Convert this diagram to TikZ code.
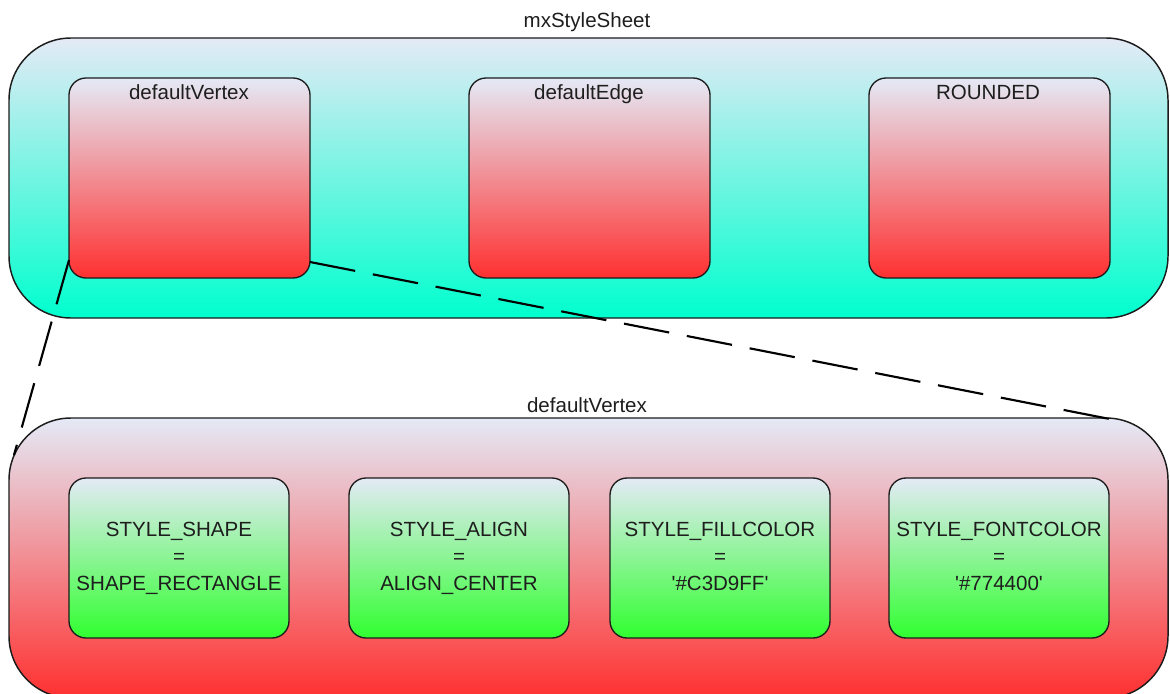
\documentclass[tikz,border=0pt]{standalone}
\usepackage{fontspec}
\setmainfont{Liberation Sans}
\usetikzlibrary{calc}

% gradient colours
\definecolor{paleTop}{RGB}{228,234,246}
\definecolor{sheetBottom}{RGB}{0,255,206}
\definecolor{redBottom}{RGB}{255,48,48}
\definecolor{greenBottom}{RGB}{48,255,48}
\definecolor{inkLine}{RGB}{28,28,28}
\definecolor{inkText}{RGB}{30,30,30}

\tikzset{
  txt/.style={font=\fontsize{15.4pt}{20.25pt}\selectfont, text=inkText},
  container/.style={draw=inkLine, line width=1.1pt, rounded corners=46.5pt,
    minimum width=869.25pt, minimum height=210pt, inner sep=0pt, outer sep=0pt,
    anchor=north west},
  sheetbox/.style={container, top color=paleTop, bottom color=sheetBottom},
  vertexbox/.style={container, top color=paleTop, bottom color=redBottom},
  stylebox/.style={draw=inkLine, line width=1pt, rounded corners=12.75pt,
    minimum width=180.75pt, minimum height=150pt, inner sep=0pt, outer sep=0pt,
    anchor=north west, top color=paleTop, bottom color=redBottom},
  entrybox/.style={draw=inkLine, line width=1pt, rounded corners=12.75pt,
    minimum width=165pt, minimum height=120pt, inner sep=0pt, outer sep=0pt,
    anchor=north west, top color=paleTop, bottom color=greenBottom,
    txt, align=center},
  caption/.style={txt, inner sep=0pt, anchor=base},
  link/.style={draw=black, line width=1.6pt, dash pattern=on 34.5pt off 13.5pt}
}

\begin{document}
\begin{tikzpicture}[x=0.75pt, y=-0.75pt]
  \useasboundingbox (0,0) rectangle (1170,693);
  \clip (0,0) rectangle (1170,693);

  % the style sheet and its named styles
  \node[sheetbox] (sheet) at (9,38) {};
  \node[caption] (sheetTitle) at (587,27) {mxStyleSheet};

  \node[stylebox] (vtx) at (69,78) {};
  \node[stylebox] (edg) at (469,78) {};
  \node[stylebox] (rnd) at (869,78) {};
  \node[caption] (vtxLabel) at (189,99) {defaultVertex};
  \node[caption] (edgLabel) at (589,99) {defaultEdge};
  \node[caption] (rndLabel) at (988,99) {ROUNDED};

  % the expanded defaultVertex style
  \node[vertexbox] (detail) at (9,418) {};
  \node[caption] (detailTitle) at (587,412) {defaultVertex};

  \node[entrybox] (eShape) at (69,478)
    {\strut STYLE\_SHAPE\\\strut=\\\strut SHAPE\_RECTANGLE};
  \node[entrybox] (eAlign) at (349,478)
    {\strut STYLE\_ALIGN\\\strut=\\\strut ALIGN\_CENTER};
  \node[entrybox] (eFill) at (610,478)
    {\strut STYLE\_FILLCOLOR\\\strut=\\\strut\textquotesingle\#C3D9FF\textquotesingle};
  \node[entrybox] (eFont) at (889,478)
    {\strut STYLE\_FONTCOLOR\\\strut=\\\strut\textquotesingle\#774400\textquotesingle};

  % zoom lines from the style to its expansion
  \draw[link] ($(vtx.south west)+(0,-18)$) -- ($(detail.north west)+(5,37)$);
  \draw[link] ($(vtx.south east)+(0,-16)$) -- ($(detail.north east)+(-48,3)$);
\end{tikzpicture}
\end{document}
